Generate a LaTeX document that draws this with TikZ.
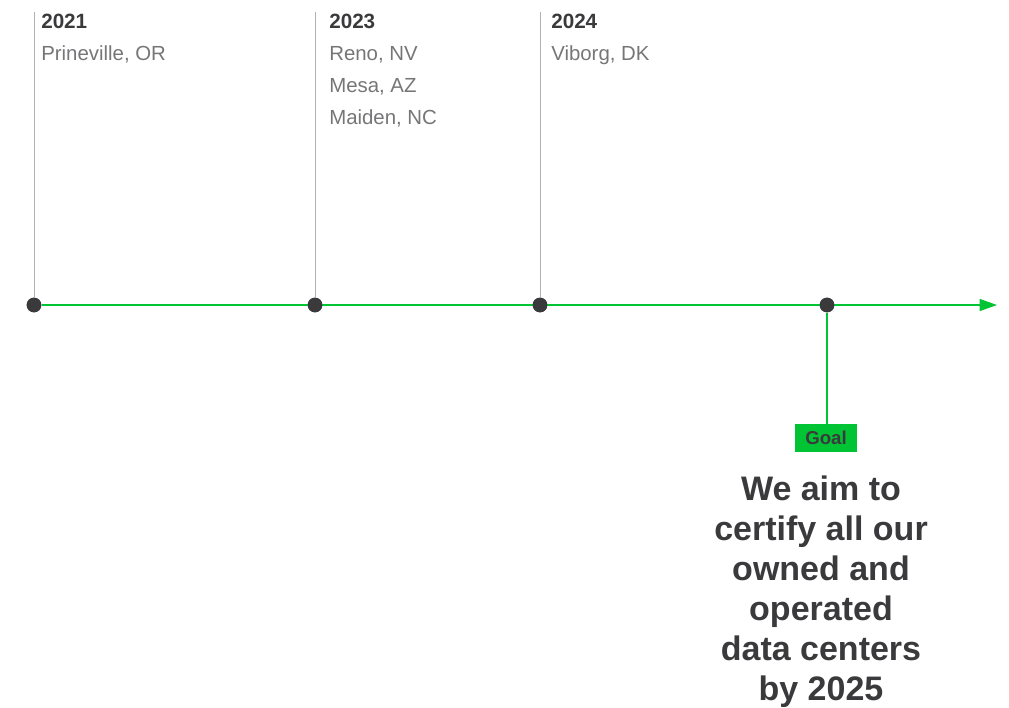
\documentclass[tikz,border=0pt]{standalone}
\usepackage{fontspec}
\setmainfont{Liberation Sans}
\usepackage{xcolor}
\usetikzlibrary{arrows.meta,positioning}
\definecolor{dotgray}{RGB}{58,58,60}
\definecolor{citygray}{RGB}{118,118,120}
\definecolor{stemgray}{RGB}{178,178,178}
\definecolor{linegreen}{RGB}{0,196,52}

\begin{document}
\begin{tikzpicture}[
    x=0.75pt, y=-0.75pt,
    dot/.style={circle, fill=dotgray, minimum size=11pt, inner sep=0pt},
    year/.style={anchor=base west, inner sep=0pt, font=\fontsize{15.5}{18}\selectfont\bfseries, text=dotgray},
    city/.style={anchor=base west, inner sep=0pt, font=\fontsize{15.3}{18}\selectfont, text=citygray},
    stem/.style={draw=stemgray, line width=0.6pt},
    axis/.style={draw=linegreen, line width=1pt},
    goalbox/.style={fill=linegreen, inner sep=0pt, minimum width=46pt, minimum height=21pt,
      font=\fontsize{14}{16}\selectfont\bfseries, text=dotgray},
    goaltext/.style={anchor=north, inner sep=0pt, align=center, text=dotgray,
      font=\fontsize{25.5}{30}\selectfont\bfseries}
  ]
    \useasboundingbox (0,0) rectangle (1009,707);
    % timeline points
    \node[dot] (d1) at (34,305) {};
    \node[dot] (d2) at (315,305) {};
    \node[dot] (d3) at (540,305) {};
    \node[dot] (d4) at (827,305) {};
    \coordinate (t1) at (34,12);
    \coordinate (t2) at (315,12);
    \coordinate (t3) at (540,12);
    \coordinate (tip) at (997,305);
    % labels
    \node[year] (y1) at (41,28) {2021};
    \node[city] (c11) at (41,60) {Prineville, OR};
    \node[year] (y2) at (329,28) {2023};
    \node[city] (c21) at (329,60) {Reno, NV};
    \node[city] (c22) at (329,92) {Mesa, AZ};
    \node[city] (c23) at (329,124) {Maiden, NC};
    \node[year] (y3) at (551,28) {2024};
    \node[city] (c31) at (551,60) {Viborg, DK};
    % goal
    \node[goalbox] (goal) at (826,438) {Goal};
    \node[goaltext] (aim) at (821,476) {We aim to\\certify all our\\owned and\\operated\\data centers\\by 2025};
    \draw[stem] (t1) -- (d1);
    \draw[stem] (t2) -- (d2);
    \draw[stem] (t3) -- (d3);
    \draw[axis, -{Triangle[length=13pt, width=9pt]}] (d1) -- (tip);
    \draw[axis] (d4) -- (d4 |- goal.north);
    \foreach \d in {d1,d2,d3,d4} \node[dot] at (\d) {};
  \end{tikzpicture}
\end{document}
